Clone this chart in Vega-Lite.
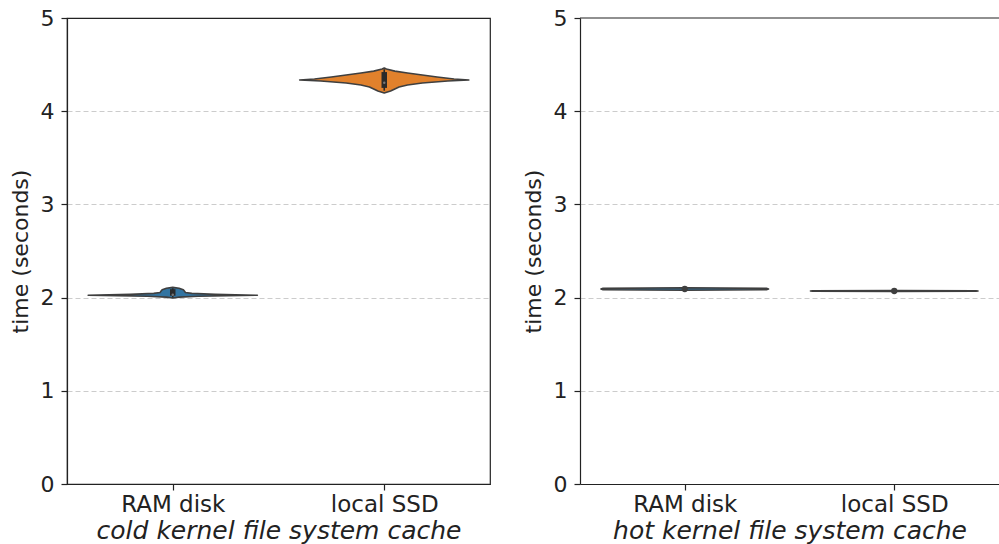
{
  "$schema": "https://vega.github.io/schema/vega-lite/v6.json",
  "padding": {"left": 8, "top": 6, "right": 0, "bottom": 0},
  "background": "white",
  "bounds": "flush",
  "spacing": 90,
  "config": {
    "view": {"stroke": "#222222", "strokeWidth": 1.2},
    "axis": {
      "domainColor": "#222222", "domainWidth": 1.2,
      "tickColor": "#222222", "tickWidth": 1.2, "tickSize": 6,
      "labelColor": "#222222", "titleColor": "#222222",
      "labelFont": "DejaVu Sans", "titleFont": "DejaVu Sans",
      "labelFontSize": 22, "titleFontSize": 22, "titleFontWeight": "normal"
    }
  },
  "datasets": {
    "violin": [
      {"panel": "cold", "cat": "RAM disk", "t": 1.995, "lo": 0, "hi": 0},
      {"panel": "cold", "cat": "RAM disk", "t": 2.005, "lo": -0.03, "hi": 0.03},
      {"panel": "cold", "cat": "RAM disk", "t": 2.015, "lo": -0.12, "hi": 0.12},
      {"panel": "cold", "cat": "RAM disk", "t": 2.025, "lo": -0.4, "hi": 0.4},
      {"panel": "cold", "cat": "RAM disk", "t": 2.035, "lo": -0.2, "hi": 0.2},
      {"panel": "cold", "cat": "RAM disk", "t": 2.045, "lo": -0.09, "hi": 0.09},
      {"panel": "cold", "cat": "RAM disk", "t": 2.055, "lo": -0.06, "hi": 0.06},
      {"panel": "cold", "cat": "RAM disk", "t": 2.07, "lo": -0.055, "hi": 0.055},
      {"panel": "cold", "cat": "RAM disk", "t": 2.085, "lo": -0.05, "hi": 0.05},
      {"panel": "cold", "cat": "RAM disk", "t": 2.1, "lo": -0.03, "hi": 0.03},
      {"panel": "cold", "cat": "RAM disk", "t": 2.11, "lo": 0, "hi": 0},
      {"panel": "cold", "cat": "local SSD", "t": 4.195, "lo": 1, "hi": 1},
      {"panel": "cold", "cat": "local SSD", "t": 4.217, "lo": 0.97, "hi": 1.03},
      {"panel": "cold", "cat": "local SSD", "t": 4.238, "lo": 0.95, "hi": 1.05},
      {"panel": "cold", "cat": "local SSD", "t": 4.26, "lo": 0.93, "hi": 1.07},
      {"panel": "cold", "cat": "local SSD", "t": 4.281, "lo": 0.89, "hi": 1.11},
      {"panel": "cold", "cat": "local SSD", "t": 4.303, "lo": 0.82, "hi": 1.18},
      {"panel": "cold", "cat": "local SSD", "t": 4.324, "lo": 0.7, "hi": 1.3},
      {"panel": "cold", "cat": "local SSD", "t": 4.335, "lo": 0.6, "hi": 1.4},
      {"panel": "cold", "cat": "local SSD", "t": 4.345, "lo": 0.67, "hi": 1.33},
      {"panel": "cold", "cat": "local SSD", "t": 4.367, "lo": 0.75, "hi": 1.25},
      {"panel": "cold", "cat": "local SSD", "t": 4.389, "lo": 0.82, "hi": 1.18},
      {"panel": "cold", "cat": "local SSD", "t": 4.41, "lo": 0.89, "hi": 1.11},
      {"panel": "cold", "cat": "local SSD", "t": 4.43, "lo": 0.95, "hi": 1.05},
      {"panel": "cold", "cat": "local SSD", "t": 4.453, "lo": 0.99, "hi": 1.01},
      {"panel": "cold", "cat": "local SSD", "t": 4.464, "lo": 1, "hi": 1},
      {"panel": "hot", "cat": "RAM disk", "t": 2.079, "lo": 0, "hi": 0},
      {"panel": "hot", "cat": "RAM disk", "t": 2.085, "lo": -0.39, "hi": 0.39},
      {"panel": "hot", "cat": "RAM disk", "t": 2.092, "lo": -0.4, "hi": 0.4},
      {"panel": "hot", "cat": "RAM disk", "t": 2.099, "lo": -0.39, "hi": 0.39},
      {"panel": "hot", "cat": "RAM disk", "t": 2.105, "lo": 0, "hi": 0},
      {"panel": "hot", "cat": "local SSD", "t": 2.066, "lo": 1, "hi": 1},
      {"panel": "hot", "cat": "local SSD", "t": 2.069, "lo": 0.61, "hi": 1.39},
      {"panel": "hot", "cat": "local SSD", "t": 2.071, "lo": 0.6, "hi": 1.4},
      {"panel": "hot", "cat": "local SSD", "t": 2.073, "lo": 0.61, "hi": 1.39},
      {"panel": "hot", "cat": "local SSD", "t": 2.076, "lo": 1, "hi": 1}
    ],
    "inner": [
      {"panel": "cold", "pos": 0, "wlo": 2.0, "whi": 2.1, "q1": 2.02, "q3": 2.09, "med": 2.03},
      {"panel": "cold", "pos": 1, "wlo": 4.22, "whi": 4.45, "q1": 4.25, "q3": 4.42, "med": 4.305},
      {"panel": "hot", "pos": 0, "wlo": 2.085, "whi": 2.1, "q1": 2.087, "q3": 2.097, "med": 2.092},
      {"panel": "hot", "pos": 1, "wlo": 2.065, "whi": 2.077, "q1": 2.067, "q3": 2.075, "med": 2.071}
    ],
    "top": [{"t": 5}]
  },
  "hconcat": [
    {
      "width": 423, "height": 466,
      "layer": [
        {
          "data": {"name": "violin"},
          "transform": [{"filter": "datum.panel == 'cold'"}],
          "mark": {"type": "area", "orient": "horizontal", "stroke": "#3f3f3f", "strokeWidth": 1.6, "strokeJoin": "round", "opacity": 1},
          "encoding": {
            "y": {"field": "t", "type": "quantitative", "scale": {"domain": [0, 5], "nice": false, "zero": false},
              "axis": {"values": [0, 1, 2, 3, 4, 5], "format": "d", "title": "time (seconds)", "grid": true, "gridDash": [5, 3], "gridColor": "#cccccc", "gridWidth": 1,
                "gridOpacity": {"condition": {"test": "datum.value == 0 || datum.value == 5", "value": 0}, "value": 1},
                "labelPadding": 7, "titlePadding": 8}},
            "x": {"field": "lo", "type": "quantitative", "scale": {"domain": [-0.5, 1.5], "nice": false, "zero": false},
              "axis": {"values": [0, 1], "labelExpr": "datum.value == 0 ? 'RAM disk' : 'local SSD'", "grid": false, "title": "cold kernel file system cache", "titleFontStyle": "italic", "labelFontSize": 23, "titleFontSize": 25, "labelPadding": 3, "titlePadding": 2}},
            "x2": {"field": "hi"},
            "color": {"field": "cat", "type": "nominal", "scale": {"domain": ["RAM disk", "local SSD"], "range": ["#3274a1", "#e1812c"]}, "legend": null}
          }
        },
        {
          "data": {"name": "inner"},
          "transform": [{"filter": "datum.panel == 'cold'"}],
          "mark": {"type": "rule", "color": "#2a2a2a", "strokeWidth": 1.6},
          "encoding": {"x": {"field": "pos", "type": "quantitative"}, "y": {"field": "wlo", "type": "quantitative"}, "y2": {"field": "whi"}}
        },
        {
          "data": {"name": "inner"},
          "transform": [{"filter": "datum.panel == 'cold'"}],
          "mark": {"type": "rule", "color": "#2a2a2a", "strokeWidth": 5.5},
          "encoding": {"x": {"field": "pos", "type": "quantitative"}, "y": {"field": "q1", "type": "quantitative"}, "y2": {"field": "q3"}}
        },
        {
          "data": {"name": "inner"},
          "transform": [{"filter": "datum.panel == 'cold'"}],
          "mark": {"type": "circle", "color": "#777777", "opacity": 1, "size": 6},
          "encoding": {"x": {"field": "pos", "type": "quantitative"}, "y": {"field": "med", "type": "quantitative"}}
        }
      ]
    },
    {
      "width": 419, "height": 466,
      "view": {"stroke": null},
      "layer": [
        {
          "data": {"name": "violin"},
          "transform": [{"filter": "datum.panel == 'hot'"}],
          "mark": {"type": "area", "orient": "horizontal", "stroke": "#3f3f3f", "strokeWidth": 1.6, "strokeJoin": "round", "opacity": 1},
          "encoding": {
            "y": {"field": "t", "type": "quantitative", "scale": {"domain": [0, 5], "nice": false, "zero": false},
              "axis": {"values": [0, 1, 2, 3, 4, 5], "format": "d", "title": "time (seconds)", "grid": true, "gridDash": [5, 3], "gridColor": "#cccccc", "gridWidth": 1,
                "gridOpacity": {"condition": {"test": "datum.value == 0 || datum.value == 5", "value": 0}, "value": 1},
                "labelPadding": 7, "titlePadding": 8}},
            "x": {"field": "lo", "type": "quantitative", "scale": {"domain": [-0.5, 1.5], "nice": false, "zero": false},
              "axis": {"values": [0, 1], "labelExpr": "datum.value == 0 ? 'RAM disk' : 'local SSD'", "grid": false, "title": "hot kernel file system cache", "titleFontStyle": "italic", "labelFontSize": 23, "titleFontSize": 25, "labelPadding": 3, "titlePadding": 2}},
            "x2": {"field": "hi"},
            "color": {"field": "cat", "type": "nominal", "scale": {"domain": ["RAM disk", "local SSD"], "range": ["#3274a1", "#e1812c"]}, "legend": null}
          }
        },
        {
          "data": {"name": "top"},
          "mark": {"type": "rule", "color": "#222222", "strokeWidth": 1.2},
          "encoding": {"y": {"field": "t", "type": "quantitative"}}
        },
        {
          "data": {"name": "inner"},
          "transform": [{"filter": "datum.panel == 'hot'"}],
          "mark": {"type": "rule", "color": "#3f3f3f", "strokeWidth": 1.5},
          "encoding": {"x": {"field": "pos", "type": "quantitative"}, "y": {"field": "wlo", "type": "quantitative"}, "y2": {"field": "whi"}}
        },
        {
          "data": {"name": "inner"},
          "transform": [{"filter": "datum.panel == 'hot'"}],
          "mark": {"type": "circle", "color": "#3f3f3f", "opacity": 1, "size": 40},
          "encoding": {"x": {"field": "pos", "type": "quantitative"}, "y": {"field": "med", "type": "quantitative"}}
        }
      ]
    }
  ]
}
